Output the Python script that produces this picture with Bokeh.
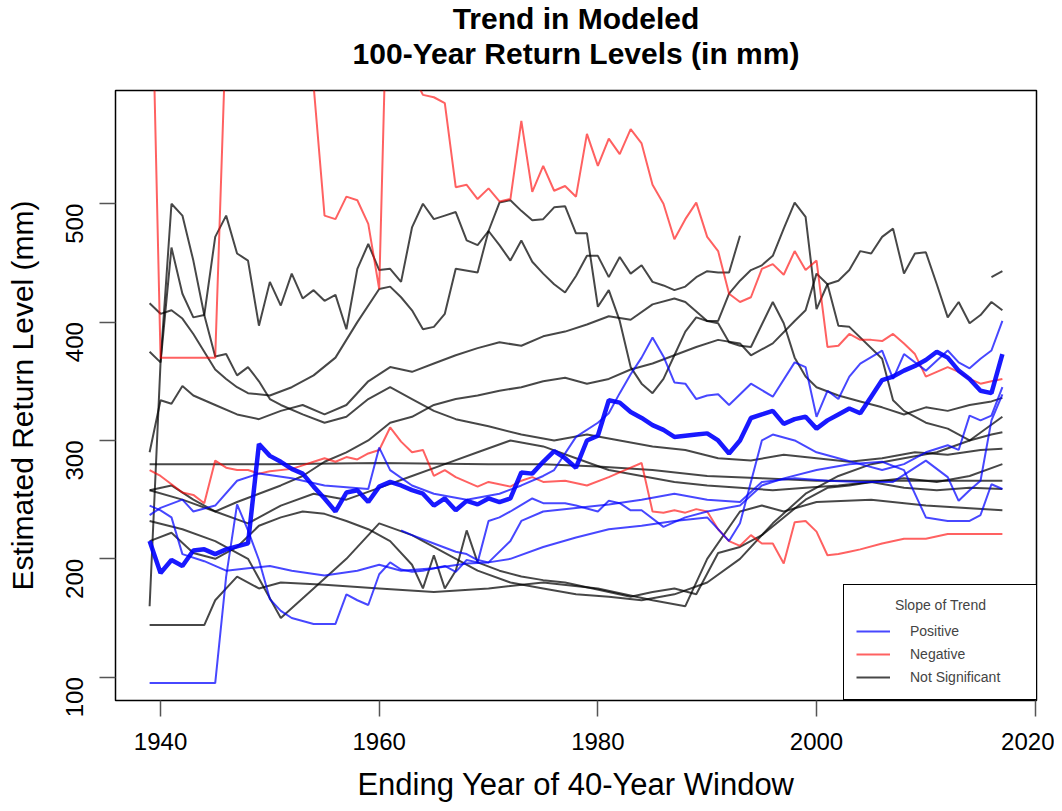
import math
from bokeh.plotting import figure
from bokeh.models import Range1d, FixedTicker, Legend, LegendItem, Title
from bokeh.embed import file_html
from bokeh.resources import INLINE

# ---------------- data (ending year, estimated 100-yr return level in mm) ----------------
# Negative trend (red)
red_a_x = [1939,1940,1945,1946,1950,1953,1954,1955,1956,1957,1958,1959,1960,1961,1962,1963,1964,1965,1966,1967,1968,1969,1970,1971,1972,1973,1974,1975,1976,1977,1978,1979,1980,1981,1982,1983,1984,1985,1986,1987,1988,1989,1990,1991,1992,1993,1994,1995,1996,1997,1998,1999,2000,2001,2002,2003,2004,2005,2006,2007,2008,2009,2010,2011,2012,2013,2014,2015,2016,2017]
red_a_y = [780,370,370,650,720,700,600,490,487,506,503,483,428,785,700,610,592,590,585,514,516,504,513,502,504,570,510,532,511,515,506,559,532,555,542,563,551,516,500,470,487,501,472,460,424,417,421,445,449,440,460,444,452,379,380,390,385,385,384,390,382,373,354,358,362,358,352,348,350,352]
red_b_x = [1939,1940,1941,1942,1943,1944,1945,1946,1947,1948,1949,1950,1952,1953,1954,1955,1956,1957,1958,1959,1960,1961,1962,1963,1964,1965,1966,1967,1968,1969,1970,1972,1973,1974,1975,1977,1979,1981,1983,1984,1985,1986,1987,1988,1989,1990,1991,1992,1993,1994,1995,1996,1997,1998,1999,2000,2001,2002,2003,2004,2006,2008,2010,2012,2013,2017]
red_b_y = [275,270,263,256,254,247,283,277,275,275,272,274,276,279,282,285,282,286,284,289,292,311,299,290,292,270,275,269,265,261,265,261,266,269,265,266,262,269,277,281,240,239,241,239,242,240,225,215,211,220,213,213,196,231,232,223,203,204,206,208,213,217,217,221,221,221]

# Positive trend (blue); the thick line is the overall mean
thick_x = [1939,1940,1941,1942,1943,1944,1945,1946,1948,1949,1950,1951,1952,1953,1954,1955,1956,1957,1958,1959,1960,1961,1962,1963,1964,1965,1966,1967,1968,1969,1970,1971,1972,1973,1974,1975,1976,1977,1978,1979,1980,1981,1982,1983,1984,1985,1986,1987,1988,1989,1990,1991,1992,1993,1994,1995,1996,1997,1998,1999,2000,2001,2002,2003,2004,2005,2006,2007,2008,2009,2010,2011,2012,2013,2014,2015,2016,2017]
thick_y = [215,188,199,194,207,208,204,208,213,297,287,282,276,272,261,251,240,256,258,248,261,265,262,258,255,245,251,241,249,246,251,248,251,273,272,282,291,285,277,300,304,334,332,324,319,313,309,303,304,305,306,300,289,300,319,322,325,314,318,320,310,317,322,327,323,337,351,354,359,363,368,375,370,359,352,342,340,373]
blue_1_x = [1939,1945,1946,1947,1948,1949,1950,1951,1952,1954,1956,1957,1958,1959,1960,1961,1962,1963,1964,1966,1967,1968,1969,1970,1971,1972,1974,1975,1977,1978,1980,1981,1982,1983,1984,1986,1988,1990,1993,1995,1997,2000,2003,2006,2008,2010,2012,2014,2015,2016,2017]
blue_1_y = [95,95,185,246,224,199,166,156,150,145,145,170,165,161,187,197,191,189,190,194,189,199,197,232,235,240,251,247,247,245,240,249,247,241,241,227,235,240,245,262,268,275,280,282,275,235,232,232,237,263,259]
blue_2_x = [1939,1940,1941,1942,1944,1946,1948,1950,1952,1955,1958,1960,1962,1965,1968,1970,1972,1973,1975,1978,1981,1984,1987,1990,1993,1995,1998,2001,2004,2007,2010,2012,2013,2014,2015,2016,2017]
blue_2_y = [245,241,235,204,198,190,192,194,190,186,190,195,190,192,196,197,215,232,240,243,246,250,255,250,248,265,268,266,265,265,283,269,249,258,266,317,339]
blue_3_x = [1939,1940,1942,1943,1945,1947,1949,1952,1955,1959,1960,1961,1963,1965,1968,1971,1973,1975,1976,1978,1980,1981,1982,1983,1984,1985,1986,1987,1988,1989,1990,1991,1992,1994,1996,1998,1999,2000,2001,2002,2003,2004,2006,2007,2008,2010,2012,2013,2014,2015,2016,2017]
blue_3_y = [237,243,250,240,245,266,272,268,262,259,294,275,262,255,250,255,262,270,275,303,315,323,340,356,370,387,371,349,348,335,338,339,330,348,337,366,362,320,342,335,354,365,376,352,373,359,376,366,361,369,376,401]
blue_4_x = [1962,1963,1965,1967,1968,1969,1970,1972,1975,1978,1981,1984,1987,1990,1992,1993,1995,1996,1998,2000,2002,2004,2006,2008,2010,2012,2013,2014,2015,2016,2017]
blue_4_y = [224,220,213,206,204,199,197,200,210,218,225,228,232,235,215,230,300,305,300,290,285,280,275,280,290,296,292,321,317,321,345]

# Not significant (black)
blk_1_x = [1939,1940,1941,1942,1943,1944,1945,1946,1947,1948,1949,1950,1951,1953,1955,1957,1959,1961,1963,1965,1967,1970,1973,1976,1979,1982,1985,1988,1991,1994,1997,2000,2003,2006,2009,2012,2015,2017]
blk_1_y = [160,366,500,490,452,406,371,373,355,362,350,335,330,322,315,320,335,345,335,325,318,312,305,300,305,300,295,292,285,283,288,285,282,285,290,288,292,293]
blk_2_x = [1939,1940,1941,1942,1943,1944,1945,1946,1947,1948,1949,1950,1951,1952,1953,1954,1955,1956,1957,1958,1959,1960,1961,1962,1963,1964,1965,1966,1967,1968,1969,1970,1971,1972,1973,1974,1975,1976,1977,1978,1979,1980,1981,1982,1983,1984,1985,1986,1987,1988,1989,1990,1991,1992,1993]
blk_2_y = [375,366,463,424,404,406,472,490,458,452,397,434,414,441,420,427,418,423,394,445,466,444,445,434,480,500,487,490,493,469,465,477,465,452,469,451,441,432,425,439,456,456,438,455,441,448,434,431,427,430,438,443,442,442,473]
blk_3_x = [1939,1940,1941,1942,1943,1944,1945,1946,1947,1948,1950,1952,1954,1956,1958,1960,1961,1962,1963,1964,1965,1966,1967,1969,1970,1971,1972,1973,1974,1975,1976,1977,1978,1979,1980,1981,1982,1983,1984,1985,1986,1987,1988,1989,1990,1991,1992,1993,1994,1995,1996,1997,1998,1999,2000,2001,2002,2003,2004,2005,2006,2007,2008,2009,2010,2011,2012,2013,2014,2015,2016,2017]
blk_3_y = [416,407,410,403,390,375,360,352,345,340,338,345,355,370,400,428,430,421,410,394,396,407,445,442,477,501,503,494,486,487,497,498,475,475,413,427,401,362,348,340,352,372,392,404,401,401,424,435,444,448,456,479,501,489,411,432,435,444,460,458,472,479,441,458,459,432,404,417,399,406,417,410]
blk_4_x = [1939,1940,1941,1942,1943,1945,1947,1949,1951,1953,1955,1957,1959,1961,1963,1965,1967,1969,1971,1973,1975,1977,1979,1981,1983,1985,1987,1988,1990,1991,1992,1993,1994,1995,1996,1997,1998,1999,2000,2002,2004,2006,2008,2010,2012,2014,2016,2017]
blk_4_y = [290,334,331,346,338,330,322,318,325,330,322,330,350,362,358,365,372,378,383,380,388,392,398,405,402,415,420,417,401,399,383,380,379,398,417,399,370,354,345,338,333,328,322,328,325,330,333,336]
blk_5_x = [1939,1941,1943,1945,1947,1949,1951,1953,1955,1957,1959,1961,1963,1965,1967,1969,1971,1973,1975,1977,1979,1981,1983,1985,1987,1989,1991,1993,1994,1996,1998,1999,2000,2001,2002,2003,2006,2007,2008,2010,2012,2014,2016,2017]
blk_5_y = [258,262,250,240,248,255,262,270,282,290,300,315,320,330,335,338,342,345,350,353,348,352,360,365,372,379,385,382,372,382,401,410,441,432,397,396,369,334,325,315,310,300,305,307]
blk_6_x = [1939,1950,1960,1970,1975,1980,1985,1990,1995,2000,2005,2010,2015,2017]
blk_6_y = [280,280,281,280,280,278,275,270,268,266,266,266,266,266]
blk_7_x = [1939,1942,1945,1948,1951,1954,1957,1960,1963,1966,1969,1972,1975,1978,1981,1984,1987,1990,1993,1996,1999,2002,2005,2008,2011,2014,2017]
blk_7_y = [258,250,240,230,245,255,250,260,270,280,290,300,295,285,275,270,265,262,260,258,260,262,265,260,258,260,259]
blk_8_x = [1939,1942,1945,1948,1951,1954,1957,1960,1963,1966,1969,1972,1975,1978,1981,1984,1987,1990,1993,1996,1999,2002,2005,2008,2011,2014,2017]
blk_8_y = [232,225,215,200,150,175,200,230,220,205,190,180,175,170,168,165,170,180,200,230,255,270,280,285,290,300,320]
blk_9_x = [1939,1944,1945,1947,1949,1951,1955,1960,1965,1970,1975,1980,1985,1988,1990,1993,1995,1997,2000,2005,2010,2017]
blk_9_y = [144,144,165,185,175,180,178,175,172,175,180,175,165,160,200,240,245,240,248,250,245,241]
blk_10_x = [1939,1941,1943,1945,1947,1949,1951,1953,1955,1957,1959,1961,1963,1964,1965,1966,1967,1968,1969,1971,1973,1975,1977,1979,1981,1983,1985,1987,1989,1991,1993,1995,1997,1999,2001,2003,2005,2008,2011,2014,2017]
blk_10_y = [215,222,205,200,210,228,235,240,238,232,225,215,195,175,203,175,190,224,197,190,185,182,180,176,172,168,172,175,170,205,210,220,235,250,260,262,265,268,265,270,280]
blk_11_x = [2016, 2017]
blk_11_y = [438, 443]

# axis ticks
x_ticks = [1940, 1960, 1980, 2000, 2020]
y_ticks = [100, 200, 300, 400, 500]

# ---------------- figure ----------------
FONT = "Liberation Sans"
p = figure(width=1054, height=811, output_backend="svg", toolbar_location=None,
           x_range=Range1d(1935.88, 2020.12), y_range=Range1d(80.3, 595.7),
           min_border_left=115, min_border_right=18, min_border_top=90, min_border_bottom=111)
p.grid.visible = False
p.outline_line_color = "black"
p.outline_line_width = 1.5
p.background_fill_color = "white"
p.border_fill_color = "white"

p.xaxis.ticker = FixedTicker(ticks=x_ticks)
p.yaxis.ticker = FixedTicker(ticks=y_ticks)
for ax in (p.xaxis[0], p.yaxis[0]):
    ax.axis_line_color = None
    ax.major_tick_in = 0
    ax.major_tick_out = 16
    ax.major_tick_line_color = "#555555"
    ax.major_tick_line_width = 1.5
    ax.minor_tick_line_color = None
    ax.major_label_text_font = FONT
    ax.major_label_text_font_size = "24px"
    ax.major_label_text_color = "black"
    ax.axis_label_text_font = FONT
    ax.axis_label_text_font_style = "normal"
    ax.axis_label_text_color = "black"

p.xaxis.axis_label = "Ending Year of 40-Year Window"
p.xaxis.axis_label_text_font_size = "31px"
p.xaxis.major_label_standoff = 16
p.xaxis.axis_label_standoff = 14
p.yaxis.axis_label = "Estimated Return Level (mm)"
p.yaxis.axis_label_text_font_size = "30px"
p.yaxis.major_label_orientation = math.pi / 2
p.yaxis.major_label_standoff = 25
p.yaxis.axis_label_standoff = 16

black_series = [(blk_1_x, blk_1_y), (blk_2_x, blk_2_y), (blk_3_x, blk_3_y), (blk_4_x, blk_4_y),
                (blk_5_x, blk_5_y), (blk_6_x, blk_6_y), (blk_7_x, blk_7_y), (blk_8_x, blk_8_y),
                (blk_9_x, blk_9_y), (blk_10_x, blk_10_y), (blk_11_x, blk_11_y)]
red_series = [(red_a_x, red_a_y), (red_b_x, red_b_y)]
blue_series = [(blue_1_x, blue_1_y), (blue_2_x, blue_2_y), (blue_3_x, blue_3_y), (blue_4_x, blue_4_y)]

k_r = []
for xs, ys in black_series:
    k_r.append(p.line(xs, ys, line_color="#000000", line_alpha=0.72, line_width=2))
r_r = []
for xs, ys in red_series:
    r_r.append(p.line(xs, ys, line_color="#ff0000", line_alpha=0.62, line_width=2))
b_r = []
for xs, ys in blue_series:
    b_r.append(p.line(xs, ys, line_color="#0000ff", line_alpha=0.72, line_width=2))
p.line(thick_x, thick_y, line_color="#0000ff", line_alpha=0.9, line_width=4.5)

legend = Legend(items=[LegendItem(label="Positive", renderers=[b_r[0]]),
                       LegendItem(label="Negative", renderers=[r_r[0]]),
                       LegendItem(label="Not Significant", renderers=[k_r[0]])],
                location=(728, 0), title="\u00a0" * 10 + "Slope of Trend")
legend.border_line_color = "black"
legend.border_line_width = 1.5
legend.border_line_alpha = 1
legend.background_fill_color = "white"
legend.background_fill_alpha = 1
legend.padding = 12
legend.margin = 0
legend.spacing = 3
legend.glyph_width = 34
legend.glyph_height = 20
legend.label_height = 20
legend.label_width = 115
legend.label_standoff = 20
legend.label_text_font = FONT
legend.label_text_font_size = "14px"
legend.title_text_font = FONT
legend.title_text_font_size = "14px"
legend.title_text_font_style = "normal"
legend.title_standoff = 8
p.add_layout(legend)

# above panels, listed from the plot outwards: a small spacer, then the two title lines
p.add_layout(Title(text="\u00a0", text_font=FONT, text_font_size="15px", standoff=0), "above")
p.add_layout(Title(text="100-Year Return Levels (in mm)", align="center", vertical_align="top",
                   standoff=0, text_font=FONT, text_font_style="bold", text_font_size="30px",
                   text_color="black"), "above")
p.add_layout(Title(text="Trend in Modeled", align="center", vertical_align="top",
                   standoff=0, text_font=FONT, text_font_style="bold", text_font_size="30px",
                   text_color="black"), "above")

open("out.html", "w").write(file_html(p, INLINE))
